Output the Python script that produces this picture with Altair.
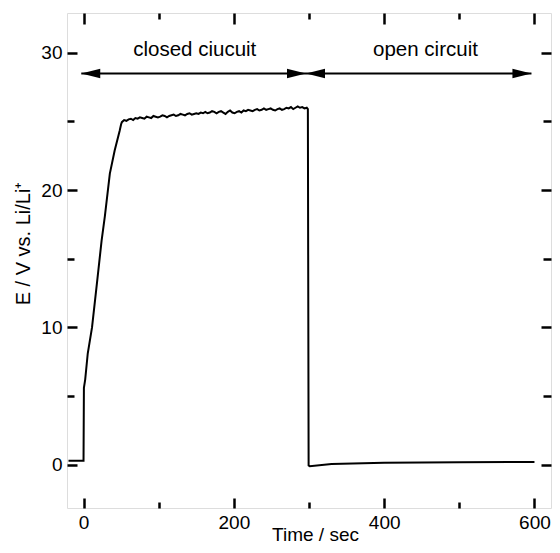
import altair as alt
import pandas as pd

# ---------------- data ----------------
time_s = [-20, 0, 0.5, 2.2, 5.6, 11.3, 18.4, 24, 28.4, 35, 41.5, 48, 50,
          51, 54, 57, 60, 63, 66, 69, 72, 75, 78, 81, 84, 87, 90, 93, 96, 99,
          102, 105, 108, 111, 114, 117, 120, 123, 126, 129, 132, 135, 138, 141,
          144, 147, 150, 153, 156, 159, 162, 165, 168, 171, 174, 177, 180, 183,
          186, 189, 192, 195, 198, 201, 204, 207, 210, 213, 216, 219, 222, 225,
          228, 231, 234, 237, 240, 243, 246, 249, 252, 255, 258, 261, 264, 267,
          270, 273, 276, 279, 282, 285, 288, 291, 294, 297, 298.5,
          299.5, 301, 330, 400, 500, 600]
potential_v = [0.3, 0.3, 5.6, 6.2, 8.1, 10.0, 13.5, 16.3, 18.1, 21.2, 22.9, 24.3, 24.8,
               24.95, 25.1, 25.05, 25.15, 25.2, 25.1, 25.25, 25.2, 25.3, 25.25, 25.2, 25.35, 25.3, 25.25, 25.4, 25.35, 25.3,
               25.35, 25.45, 25.4, 25.3, 25.4, 25.45, 25.5, 25.4, 25.45, 25.55, 25.5, 25.45, 25.55, 25.6,
               25.5, 25.55, 25.6, 25.55, 25.65, 25.6, 25.7, 25.6, 25.65, 25.75, 25.7, 25.6, 25.7, 25.75,
               25.65, 25.55, 25.7, 25.8, 25.65, 25.6, 25.7, 25.75, 25.65, 25.8, 25.75, 25.85, 25.8, 25.75,
               25.85, 25.9, 25.8, 25.85, 25.95, 25.85, 25.9, 25.95, 25.85, 25.8, 25.9, 25.95, 25.85, 25.9,
               26.0, 25.95, 26.05, 25.9, 26.0, 26.1, 26.0, 26.05, 25.95, 26.0, 25.9,
               -0.05, -0.1, 0.05, 0.15, 0.18, 0.2]

arrow_start = [-3, 296]
arrow_end = [296, 596]
arrow_level = [28.5, 28.5]
left_heads = [-3, 296]
right_heads = [296, 596]

labels_text = ["closed ciucuit", "open circuit"]
labels_time = [148, 455]
labels_level = [30.2, 30.2]

x_label_values = [0, 200, 400, 600]
x_major = [0, 200, 400, 600]
x_minor = [100, 300, 500]
y_label_values = [0, 10, 20, 30]
y_major = [0, 10, 20, 30]
y_minor = [5, 15, 25]

# ---------------- tables ----------------
curve = pd.DataFrame({"t": time_s, "E": potential_v})
shafts = pd.DataFrame({"t": arrow_start, "t2": arrow_end, "E": arrow_level})
lheads = pd.DataFrame({"t": left_heads, "E": arrow_level})
rheads = pd.DataFrame({"t": right_heads, "E": arrow_level})
notes = pd.DataFrame({"t": labels_time, "E": labels_level, "label": labels_text})

FONT = "Liberation Sans, Arial, Helvetica, sans-serif"
XS = alt.Scale(domain=[-22, 622], nice=False, zero=False)
YS = alt.Scale(domain=[-3.15, 32.9], nice=False, zero=False)


def tick_axis(orient, values, size):
    return alt.Axis(orient=orient, values=values, tickSize=size, offset=-size,
                    labels=False, domain=False, grid=False, ticks=True,
                    title=None, tickWidth=2.5, tickColor="black")


x_main = alt.Axis(orient="bottom", values=x_label_values, ticks=False, tickSize=0,
                  domain=False, grid=False, labelFontSize=19, labelPadding=5,
                  labelColor="black", labelFont=FONT,
                  title="Time / sec", titleFontSize=19, titleFont=FONT,
                  titleFontWeight="normal", titleColor="black",
                  titleBaseline="alphabetic", titleX=248, titleY=32)
y_main = alt.Axis(orient="left", values=y_label_values, ticks=False, tickSize=0,
                  domain=False, grid=False, labelFontSize=19, labelPadding=5,
                  labelColor="black", labelFont=FONT,
                  title="E / V vs. Li/Li⁺", titleFontSize=20, titleFont=FONT,
                  titleFontWeight="normal", titleColor="black",
                  titleBaseline="alphabetic", titleX=-38, titleY=230)

line = alt.Chart(curve).mark_line(color="black", strokeWidth=2).encode(
    x=alt.X("t:Q", scale=XS, axis=x_main),
    y=alt.Y("E:Q", scale=YS, axis=y_main),
    order=alt.Order("t:Q"),
)

shaft = alt.Chart(shafts).mark_rule(color="black", strokeWidth=2).encode(
    x=alt.X("t:Q", scale=XS, axis=tick_axis("bottom", x_major, 10)),
    x2="t2:Q",
    y=alt.Y("E:Q", scale=YS, axis=tick_axis("left", y_major, 10)),
)

lh = alt.Chart(lheads).mark_point(
    shape="M2,-0.5L0,0L2,0.5Z", size=361, filled=True, color="black", opacity=1
).encode(
    x=alt.X("t:Q", scale=XS, axis=tick_axis("bottom", x_minor, 6)),
    y=alt.Y("E:Q", scale=YS, axis=tick_axis("left", y_minor, 7)),
)

rh = alt.Chart(rheads).mark_point(
    shape="M-2,-0.5L0,0L-2,0.5Z", size=361, filled=True, color="black", opacity=1
).encode(
    x=alt.X("t:Q", scale=XS, axis=tick_axis("top", x_major, 11)),
    y=alt.Y("E:Q", scale=YS, axis=tick_axis("right", y_major, 10)),
)

txt = alt.Chart(notes).mark_text(
    fontSize=20.5, font=FONT, color="black", align="center", baseline="middle"
).encode(
    x=alt.X("t:Q", scale=XS, axis=tick_axis("top", x_minor, 6)),
    y=alt.Y("E:Q", scale=YS, axis=tick_axis("right", y_minor, 8)),
    text="label:N",
)

chart = alt.layer(line, shaft, lh, rh, txt).resolve_axis(
    x="independent", y="independent"
).properties(
    width=484, height=495,
    autosize=alt.AutoSizeParams(type="none"),
    padding={"left": 59, "top": 5, "right": 1, "bottom": 37},
    background="white",
).configure_view(
    stroke="black", strokeWidth=2.5
).configure(font=FONT)

chart.save("out.html", embed_options={"renderer": "svg", "actions": False})
